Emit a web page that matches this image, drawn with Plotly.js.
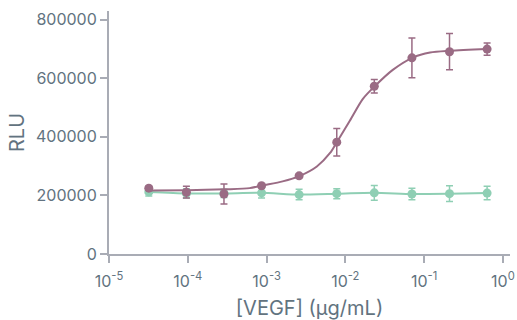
<!DOCTYPE html>
<html>
<head>
<meta charset="utf-8">
<script src="https://cdn.plot.ly/plotly-3.0.1.min.js"></script>
<style>
  html, body { margin: 0; padding: 0; background: #ffffff; }
  #chart { width: 517px; height: 320px; }
</style>
</head>
<body>
<div id="chart"></div>
<script>
// Concentrations (µg/mL), 3-fold dilution series
const conc = [0.000032, 0.000096, 0.000288, 0.000864, 0.00259, 0.00778, 0.0233, 0.07, 0.21, 0.63];

// VEGF response (purple)
const vegfRLU = [225000, 211000, 205000, 233000, 267000, 382000, 573000, 670000, 691000, 700000];
const vegfErr = [6000, 20000, 34000, 6000, 6000, 47000, 23000, 68000, 62000, 21000];

// Control response (green)
const ctrlRLU = [212000, 207000, 207000, 209000, 203000, 206000, 209000, 205000, 206000, 208000];
const ctrlErr = [14000, 16000, 14000, 18000, 18000, 17000, 25000, 20000, 27000, 23000];

// Fitted curve of the VEGF series
const fitConc = [0.000033, 0.0001, 0.0003, 0.00061, 0.00087, 0.0016, 0.00265, 0.00435, 0.0064, 0.0078, 0.0114, 0.0167, 0.0238, 0.040, 0.072, 0.119, 0.213, 0.63];
const fitRLU  = [217000, 218000, 221000, 225000, 234000, 248000, 267000, 299000, 345000, 382000, 455000, 530000, 574000, 629000, 671000, 688000, 694000, 700000];

// Axis ticks
const xTickVals = [0.00001, 0.0001, 0.001, 0.01, 0.1, 1];
const xTickText = ['10<sup>-5</sup>', '10<sup>-4</sup>', '10<sup>-3</sup>', '10<sup>-2</sup>', '10<sup>-1</sup>', '10<sup>0</sup>'];
const yTickVals = [0, 200000, 400000, 600000, 800000];
const yTickText = ['0', '200000', '400000', '600000', '800000'];

const purple = '#9a6b84';
const green = '#8fcfb4';
const textColor = '#627380';
const axisColor = '#a9acb5';
const fontFamily = 'Inter, "Open Sans", sans-serif';

const traces = [
  {
    x: conc, y: ctrlRLU, type: 'scatter', mode: 'lines+markers',
    line: { color: green, width: 2, shape: 'spline', smoothing: 0.6 },
    marker: { color: green, size: 9 },
    error_y: { type: 'data', array: ctrlErr, visible: true, color: green, thickness: 1.5, width: 3.5 },
    hoverinfo: 'skip'
  },
  {
    x: fitConc, y: fitRLU, type: 'scatter', mode: 'lines',
    line: { color: purple, width: 2, shape: 'spline', smoothing: 0.8 },
    hoverinfo: 'skip'
  },
  {
    x: conc, y: vegfRLU, type: 'scatter', mode: 'markers',
    marker: { color: purple, size: 9 },
    error_y: { type: 'data', array: vegfErr, visible: true, color: purple, thickness: 1.5, width: 3.5 },
    hoverinfo: 'skip'
  }
];

const layout = {
  width: 517, height: 320,
  margin: { l: 109, r: 7, t: 11, b: 66 },
  paper_bgcolor: '#ffffff', plot_bgcolor: '#ffffff',
  showlegend: false,
  font: { family: fontFamily, color: textColor, size: 16 },
  xaxis: {
    type: 'log', range: [-5, 0.09],
    tickvals: xTickVals, ticktext: xTickText,
    showgrid: false, zeroline: false,
    showline: true, linecolor: axisColor, linewidth: 2,
    ticks: 'outside', ticklen: 7, tickwidth: 2, tickcolor: axisColor,
    ticklabelstandoff: 5,
    tickfont: { family: fontFamily, size: 16, color: textColor },
    title: { text: '[VEGF] (µg/mL)', font: { family: fontFamily, size: 20, color: textColor }, standoff: 14 }
  },
  yaxis: {
    range: [0, 830000],
    tickvals: yTickVals, ticktext: yTickText,
    showgrid: false, zeroline: false,
    showline: true, linecolor: axisColor, linewidth: 2,
    ticks: 'outside', ticklen: 7, tickwidth: 2, tickcolor: axisColor,
    tickfont: { family: fontFamily, size: 16, color: textColor },
    title: { text: 'RLU', font: { family: fontFamily, size: 20, color: textColor }, standoff: 6 }
  }
};

Plotly.newPlot('chart', traces, layout, { displayModeBar: false, staticPlot: true });
</script>
</body>
</html>
